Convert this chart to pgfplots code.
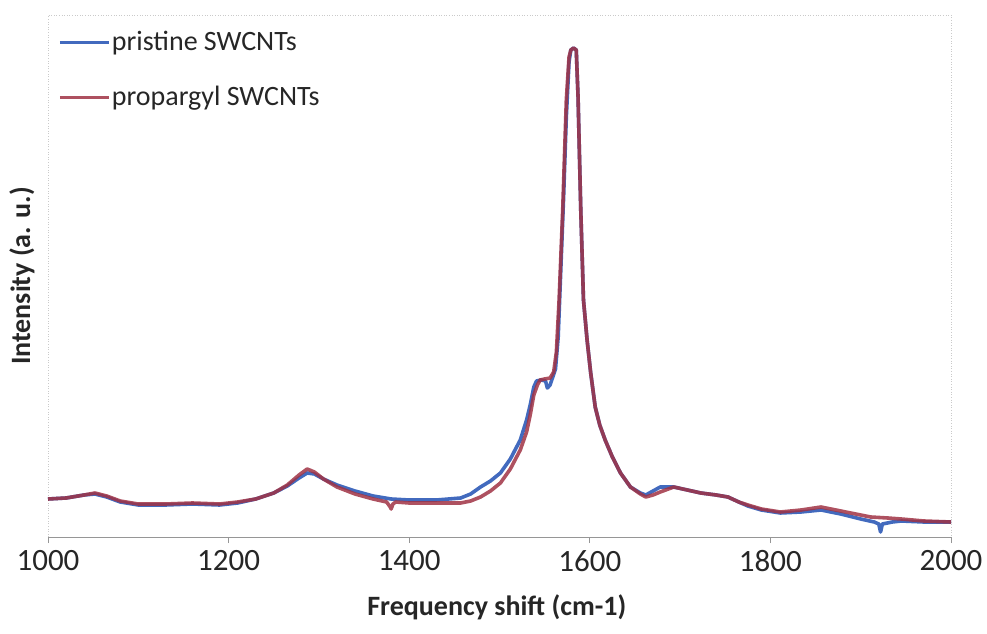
\documentclass[border=0pt]{standalone}
\usepackage{pgfplots}
\pgfplotsset{compat=1.18}
\usepackage{fontspec}
\setmainfont{Carlito}
\definecolor{pristine}{RGB}{66,106,190}
\definecolor{propargyl}{RGB}{160,50,68}
\definecolor{frame}{RGB}{150,150,150}

\begin{document}
\begin{tikzpicture}
\begin{axis}[
  scale only axis,
  width=451.5pt, height=261pt,
  xmin=1000, xmax=2000, ymin=0, ymax=522,
  xtick={1000,1200,...,2000},
  ytick=\empty,
  xtick pos=bottom, tick align=outside,
  major tick length=3pt,
  every tick/.style={frame, thin},
  axis line style={frame!50, densely dotted, line width=0.3pt},
  /pgf/number format/assume math mode=true,
  /pgf/number format/1000 sep={},
  xticklabel style={font=\fontsize{15.5}{18}\selectfont, text=black!85},
  xlabel={Frequency shift (cm-1)},
  ylabel={Intensity (a. u.)},
  every axis x label/.style={at={(axis description cs:0.497,-0.134)}, anchor=center,
    font=\fontsize{14}{17}\selectfont\bfseries, text=black!85},
  every axis y label/.style={at={(axis description cs:-0.0288,0.5)}, rotate=90, anchor=center,
    font=\fontsize{14}{17}\selectfont\bfseries, text=black!85},
  legend style={at={(axis description cs:0.011,0.972)}, anchor=north west,
    draw=none, fill=none, inner sep=0pt, row sep=14.5pt,
    font=\fontsize{14}{17}\selectfont, text=black!85,
    nodes={inner sep=0.8pt}},
  legend cell align=left,
  legend image code/.code={\draw[#1, line width=1.5pt] (0pt,0pt) -- (24.5pt,0pt);},
  clip=false,
]
% solid bottom axis line over the dotted frame
\draw[frame, line width=0.5pt] (rel axis cs:0,0) -- (rel axis cs:1,0);

\addplot[pristine, line width=1.8pt, line join=round] coordinates {
(1000,38) (1020,39) (1040,42) (1052,43) (1065,40) (1080,35) (1100,32)
(1130,32) (1160,33) (1190,32) (1210,34) (1230,38) (1250,44) (1265,51)
(1278,59) (1287,64) (1295,63) (1305,58) (1320,52) (1340,46) (1360,41)
(1380,38) (1400,37) (1430,37) (1457,39) (1468,43) (1479,50) (1490,56)
(1501,64) (1512,78) (1523,97) (1530,117) (1534,132) (1538,150) (1541,156)
(1546,157) (1551,156) (1553,149) (1556,152) (1559,160) (1562,168) (1565,200)
(1568,270) (1571,340) (1574,420) (1577,475) (1579,487) (1582,489) (1585,487)
(1587,440) (1590,327) (1593,237) (1597,197) (1601,164) (1606,130) (1611,112)
(1617,97) (1625,80) (1634,64) (1645,50) (1656,44) (1662,42) (1670,46)
(1678,50) (1693,50) (1708,47) (1723,44) (1740,42) (1753,40) (1765,35)
(1775,31) (1790,27) (1811,24) (1834,25) (1856,27) (1878,23) (1900,18)
(1915,15) (1920,13) (1922,5) (1924,13) (1935,15) (1945,16) (1970,15) (2000,15)
};
\addlegendentry{pristine SWCNTs}

\addplot[propargyl, line width=1.8pt, line join=round, opacity=0.85] coordinates {
(1000,38) (1020,39) (1040,42) (1052,44) (1065,41) (1080,36) (1100,33)
(1130,33) (1160,34) (1190,33) (1210,35) (1230,38) (1250,44) (1265,52)
(1278,62) (1287,68) (1295,65) (1305,58) (1320,50) (1340,43) (1360,38)
(1375,35) (1379,30) (1380,28) (1382,33) (1385,35) (1400,34) (1430,34)
(1457,34) (1468,36) (1479,40) (1490,46) (1501,54) (1512,68) (1523,87)
(1530,105) (1534,122) (1538,142) (1542,152) (1545,157) (1550,158) (1556,159)
(1560,165) (1563,185) (1566,237) (1570,327) (1574,437) (1577,480) (1579,487)
(1582,489) (1585,487) (1587,440) (1590,327) (1593,237) (1597,197) (1601,164)
(1606,130) (1611,112) (1617,97) (1625,80) (1634,64) (1645,50) (1656,43)
(1662,40) (1670,42) (1678,45) (1693,50) (1708,47) (1723,44) (1740,42)
(1753,40) (1765,35) (1775,32) (1790,28) (1811,25) (1834,27) (1856,30)
(1878,26) (1900,22) (1911,20) (1930,19) (1945,18) (1970,16) (2000,15)
};
\addlegendentry{propargyl SWCNTs}
\end{axis}
\pgfresetboundingbox
\path (-24pt,-48pt) rectangle (469.5pt,268.5pt);
\end{tikzpicture}
\end{document}
